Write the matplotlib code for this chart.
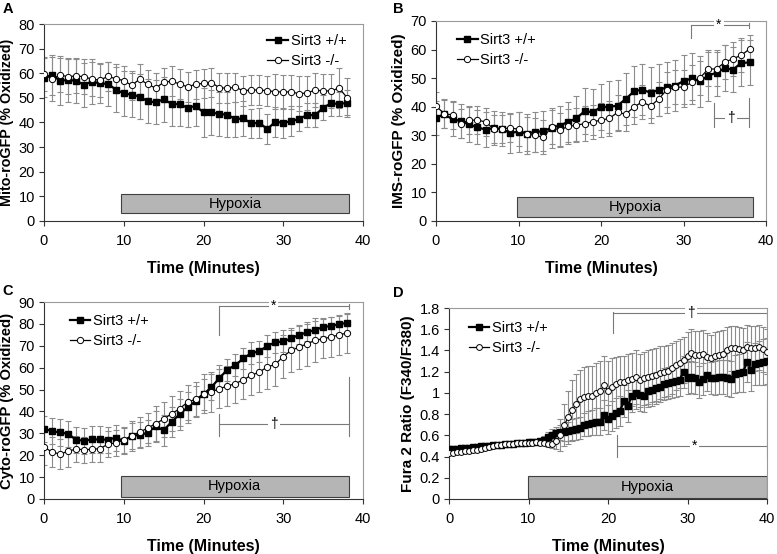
import numpy as np
import matplotlib
matplotlib.use("Agg")
import matplotlib.pyplot as plt
from matplotlib.patches import Rectangle

plt.rcParams['font.family'] = ['Liberation Sans', 'DejaVu Sans']

# ---- data ----
t_min = list(range(39))

mito_wt = [58.2, 59.3, 57.0, 57.2, 57.0, 55.3, 56.6, 55.9, 55.7, 53.4, 51.8, 51.3, 50.5,
           48.6, 48.2, 49.4, 47.6, 47.4, 46.0, 46.7, 44.1, 44.1, 43.4, 43.2, 41.3, 41.7,
           39.6, 39.9, 37.3, 40.3, 39.9, 40.5, 41.5, 43.0, 43.0, 46.0, 47.8, 47.5, 48.0]
mito_ko = [59.7, 57.6, 59.3, 58.6, 58.9, 58.6, 57.6, 57.2, 58.7, 57.8, 57.0, 55.1, 57.6,
           55.5, 54.0, 56.3, 56.8, 55.6, 54.5, 55.5, 55.9, 56.2, 54.1, 53.9, 54.3, 52.9,
           53.2, 53.2, 52.9, 52.5, 52.4, 52.4, 51.7, 52.0, 53.2, 52.8, 52.8, 54.0, 50.1]
mito_wt_err = [8, 8, 10, 9, 9, 9, 9, 8, 9, 9, 9, 9, 9, 9, 9, 9, 9, 9, 8, 8, 10, 9, 9, 9,
               7, 7, 6, 6, 6, 6, 6, 6, 5, 5, 5, 5, 5, 5, 5]
mito_ko_err = [7, 9, 7, 7, 7, 7, 7, 7, 6, 6, 6, 6, 6, 6, 6, 6, 6, 6, 6, 6, 6, 6, 6, 6,
               6, 6, 6, 6, 6, 7, 7, 7, 7, 7, 7, 7, 7, 8, 8]

ims_wt = [36.1, 37.4, 35.6, 35.0, 33.8, 32.8, 32.0, 32.5, 32.2, 30.8, 31.3, 30.6, 31.2,
          31.4, 32.7, 33.4, 34.7, 35.9, 38.4, 38.1, 39.9, 39.9, 40.4, 42.7, 45.4, 46.0,
          44.9, 45.9, 46.8, 47.4, 49.0, 49.9, 48.9, 50.9, 51.9, 53.5, 53.0, 55.3, 55.5]
ims_ko = [40.2, 37.6, 37.1, 34.1, 35.3, 35.3, 34.7, 32.2, 32.2, 32.6, 32.1, 30.4, 30.0,
          29.3, 32.8, 31.8, 33.1, 33.5, 34.1, 34.7, 35.3, 35.9, 38.0, 37.4, 39.9, 41.7,
          40.2, 42.7, 46.0, 46.8, 46.9, 48.5, 50.1, 53.2, 53.2, 55.6, 56.8, 58.0, 60.2]
ims_wt_err = [6, 5, 6, 6, 6, 6, 6, 6, 6, 7, 7, 7, 7, 7, 7, 7, 7, 8, 8, 8, 8, 9, 9, 9,
              9, 9, 9, 9, 9, 9, 9, 9, 9, 9, 8, 8, 8, 8, 8]
ims_ko_err = [5, 5, 5, 5, 5, 5, 5, 5, 5, 5, 6, 6, 6, 6, 6, 6, 6, 6, 6, 6, 6, 6, 6, 6,
              6, 6, 6, 6, 6, 6, 6, 6, 6, 6, 6, 6, 6, 6, 5]

cyto_wt = [32.1, 31.0, 30.4, 29.8, 27.1, 26.6, 27.2, 27.2, 27.1, 28.0, 26.5, 28.9, 29.2,
           30.3, 33.2, 31.4, 35.2, 38.7, 41.9, 44.7, 47.8, 51.1, 55.3, 59.1, 61.2, 64.2,
           66.7, 67.4, 70.0, 71.5, 72.0, 73.4, 75.0, 76.1, 77.3, 78.5, 79.1, 79.8, 80.5]
cyto_ko = [23.7, 21.5, 20.5, 21.8, 22.8, 22.5, 22.7, 23.0, 25.0, 25.7, 26.8, 28.8, 30.6,
           32.4, 34.4, 36.5, 39.0, 41.2, 44.3, 45.5, 48.1, 48.9, 50.4, 51.6, 52.7, 54.5,
           56.5, 58.0, 60.3, 61.5, 65.1, 67.9, 69.4, 70.9, 72.5, 73.2, 74.0, 75.0, 75.8]
cyto_wt_err = [6, 6, 6, 6, 6, 6, 6, 6, 6, 6, 6, 6, 6, 6, 7, 7, 7, 7, 7, 7, 7, 6, 6, 5,
               5, 5, 5, 5, 5, 5, 5, 4, 4, 4, 4, 4, 4, 4, 4]
cyto_ko_err = [8, 7, 7, 7, 6, 6, 6, 6, 6, 6, 6, 7, 7, 7, 8, 8, 8, 8, 8, 8, 9, 9, 9, 9,
               9, 9, 9, 9, 10, 10, 10, 10, 10, 10, 10, 9, 9, 9, 9]

t_fura = [i * 0.5 for i in range(81)]
fura_wt = [0.47, 0.47, 0.475, 0.48, 0.48, 0.485, 0.49, 0.49, 0.495, 0.50, 0.50, 0.505,
           0.51, 0.51, 0.515, 0.52, 0.52, 0.525, 0.53, 0.53, 0.535, 0.54, 0.54, 0.55,
           0.56, 0.58, 0.60, 0.62, 0.63, 0.63, 0.64, 0.65, 0.66, 0.67, 0.70, 0.71, 0.72,
           0.73, 0.73, 0.79, 0.75, 0.78, 0.81, 0.83, 0.92, 0.88, 0.97, 1.00, 0.98, 0.97,
           1.02, 1.03, 1.05, 1.06, 1.08, 1.09, 1.10, 1.11, 1.12, 1.20, 1.14, 1.15, 1.14,
           1.10, 1.13, 1.17, 1.14, 1.14, 1.15, 1.15, 1.14, 1.13, 1.18, 1.19, 1.20, 1.29,
           1.22, 1.27, 1.28, 1.29, 1.30]
fura_ko = [0.43, 0.435, 0.44, 0.445, 0.45, 0.455, 0.46, 0.465, 0.47, 0.48, 0.49, 0.50,
           0.505, 0.51, 0.515, 0.52, 0.52, 0.525, 0.525, 0.53, 0.53, 0.53, 0.535, 0.53,
           0.53, 0.52, 0.52, 0.55, 0.60, 0.70, 0.77, 0.84, 0.90, 0.94, 0.96, 0.97, 0.97,
           1.00, 1.02, 1.07, 1.02, 1.06, 1.08, 1.10, 1.10, 1.12, 1.13, 1.15, 1.12, 1.14,
           1.15, 1.16, 1.17, 1.19, 1.20, 1.21, 1.23, 1.26, 1.28, 1.31, 1.35, 1.38, 1.36,
           1.36, 1.37, 1.34, 1.33, 1.35, 1.36, 1.37, 1.40, 1.42, 1.42, 1.41, 1.40, 1.43,
           1.42, 1.42, 1.43, 1.41, 1.39]
fura_wt_err = [0.015, 0.015, 0.015, 0.015, 0.015, 0.015, 0.015, 0.015,
               0.015, 0.015, 0.015, 0.015, 0.015, 0.015, 0.015, 0.015, 0.015, 0.015,
               0.015, 0.015, 0.015, 0.015, 0.015, 0.02, 0.03, 0.05, 0.06, 0.06, 0.07,
               0.08, 0.09, 0.10, 0.10, 0.10, 0.11, 0.12, 0.12, 0.13, 0.13, 0.14, 0.14,
               0.14, 0.14, 0.14, 0.15, 0.15, 0.15, 0.15, 0.15, 0.15, 0.15, 0.15, 0.15,
               0.15, 0.15, 0.15, 0.15, 0.15, 0.15, 0.15, 0.15, 0.15, 0.15, 0.15, 0.15,
               0.15, 0.15, 0.16, 0.16, 0.16, 0.17, 0.17, 0.18, 0.18, 0.19, 0.19, 0.20,
               0.20, 0.21, 0.22, 0.22]
fura_ko_err = [0.015, 0.015, 0.015, 0.015, 0.015, 0.015, 0.015, 0.015, 0.015, 0.015,
               0.015, 0.015, 0.015, 0.015, 0.015, 0.015, 0.015, 0.015, 0.015, 0.015,
               0.015, 0.015, 0.015, 0.015, 0.02, 0.03, 0.04, 0.08, 0.15, 0.20, 0.25,
               0.28, 0.28, 0.28, 0.28, 0.28, 0.28, 0.28, 0.28, 0.28, 0.28, 0.27, 0.26,
               0.25, 0.25, 0.25, 0.25, 0.25, 0.25, 0.25, 0.25, 0.25, 0.25, 0.25, 0.24,
               0.24, 0.24, 0.23, 0.23, 0.22, 0.22, 0.22, 0.22, 0.22, 0.22, 0.22, 0.22,
               0.22, 0.22, 0.22, 0.22, 0.21, 0.21, 0.21, 0.21, 0.21, 0.21, 0.21, 0.21,
               0.21, 0.21]

labels = ['Sirt3 +/+', 'Sirt3 -/-']

W, H = 777, 554
fig = plt.figure(figsize=(7.77, 5.54), dpi=100)


def px_axes(l, t, r, b):
    return fig.add_axes([l / W, 1 - b / H, (r - l) / W, (b - t) / H])


def draw_panel(ax, x, wt, ko, wt_err, ko_err, ymax, ystep, ylabel, ylsize, hyp, leg_xy,
               ms=4.5):
    ax.errorbar(x, wt, yerr=wt_err, fmt='none', ecolor='#8c8c8c', elinewidth=0.8,
                capsize=2, capthick=0.8, zorder=2)
    ax.errorbar(x, ko, yerr=ko_err, fmt='none', ecolor='#8c8c8c', elinewidth=0.8,
                capsize=2, capthick=0.8, zorder=2)
    ax.plot(x, wt, color='black', lw=1.6, marker='s', ms=ms, mfc='black', mec='black',
            label=labels[0], zorder=3)
    ax.plot(x, ko, color='black', lw=0.9, marker='o', ms=ms, mfc='white', mec='black',
            mew=0.7, label=labels[1], zorder=4)
    ax.add_patch(Rectangle((hyp[0], hyp[2]), hyp[1] - hyp[0], hyp[3] - hyp[2],
                           facecolor='#b5b5b5', edgecolor='#404040', lw=0.8, zorder=1))
    ax.text((hyp[0] + hyp[1]) / 2, (hyp[2] + hyp[3]) / 2, 'Hypoxia', ha='center',
            va='center', fontsize=10.5, zorder=5)
    ax.set_xlim(0, 40)
    ax.set_ylim(0, ymax)
    ax.set_xticks(range(0, 41, 10))
    ax.set_yticks(np.arange(0, ymax + ystep / 2, ystep))
    ax.tick_params(direction='out', length=3.5, width=0.8, labelsize=10.5, pad=3,
                   color='#333333')
    ax.tick_params(axis='x', pad=6)
    for s in ['left', 'bottom']:
        ax.spines[s].set_color('#333333')
    for s in ['top', 'right']:
        ax.spines[s].set_color('#9a9a9a')
    ax.set_xlabel('Time (Minutes)', fontsize=11.5, fontweight='bold', labelpad=9)
    ax.set_ylabel(ylabel, fontsize=ylsize, fontweight='bold', labelpad=3)
    ax.legend(loc='upper left', bbox_to_anchor=leg_xy, frameon=False, fontsize=10.5,
              handlelength=1.4, handletextpad=0.2, borderpad=0, borderaxespad=0,
              labelspacing=0.4)


def bracket(ax, x0, x1, y, sym, xs, left, right):
    c = '#7a7a7a'
    ax.plot([x0, x1], [y, y], color=c, lw=0.8, zorder=6)
    ax.plot([x0, x0], left, color=c, lw=0.8, zorder=6)
    ax.plot([x1, x1], right, color=c, lw=0.8, zorder=6)
    ax.text(xs, y, sym, ha='center', va='center', fontsize=10, zorder=7,
            bbox=dict(facecolor='white', edgecolor='none', pad=1.5))


axA = px_axes(44, 24, 363, 221)
draw_panel(axA, t_min, mito_wt, mito_ko, mito_wt_err, mito_ko_err, 80, 10,
           'Mito-roGFP (% Oxidized)', 10.3, (9.6, 38.3, 3.1, 10.8), (0.70, 0.95))

axB = px_axes(436, 21, 766, 221)
draw_panel(axB, t_min, ims_wt, ims_ko, ims_wt_err, ims_ko_err, 70, 10,
           'IMS-roGFP (% Oxidized)', 11, (9.85, 38.4, 1.5, 8.5), (0.064, 0.94))
bracket(axB, 30.9, 37.9, 68.6, '*', 34.3, [68.6, 64.0], [69.4, 67.6])
bracket(axB, 33.7, 37.9, 36.2, '\u2020', 35.8, [41.3, 32.9], [43.0, 33.0])

axC = px_axes(44, 302, 363, 499)
draw_panel(axC, t_min, cyto_wt, cyto_ko, cyto_wt_err, cyto_ko_err, 90, 10,
           'Cyto-roGFP (% Oxidized)', 10.7, (9.65, 38.2, 1.0, 10.5), (0.08, 0.94))
bracket(axC, 22.0, 38.2, 88.3, '*', 28.8, [88.3, 74.9], [89.0, 87.0])
bracket(axC, 22.0, 38.2, 34.1, '\u2020', 28.8, [39.0, 29.0], [55.9, 29.0])

axD = px_axes(449, 308, 767, 499)
draw_panel(axD, t_fura, fura_wt, fura_ko, fura_wt_err, fura_ko_err, 1.8, 0.2,
           'Fura 2 Ratio (F340/F380)', 11, (9.9, 40.0, 0.01, 0.22), (0.063, 0.93),
           ms=4.2)
axD.set_yticks(np.arange(0, 1.81, 0.2))
axD.set_yticklabels(['0', '0.2', '0.4', '0.6', '0.8', '1', '1.2', '1.4', '1.6', '1.8'])
bracket(axD, 20.6, 40.0, 1.756, '\u2020', 30.4, [1.765, 1.56], [1.78, 1.70])
bracket(axD, 21.1, 40.0, 0.50, '*', 30.9, [0.60, 0.40], [0.92, 0.40])

for letter, (x, y) in zip('ABCD', [(8, 9), (398, 9), (8, 291), (398, 293)]):
    fig.text(x / W, 1 - y / H, letter, fontsize=10.5, fontweight='bold',
             ha='center', va='center')

fig.savefig('out.png', dpi=100)
